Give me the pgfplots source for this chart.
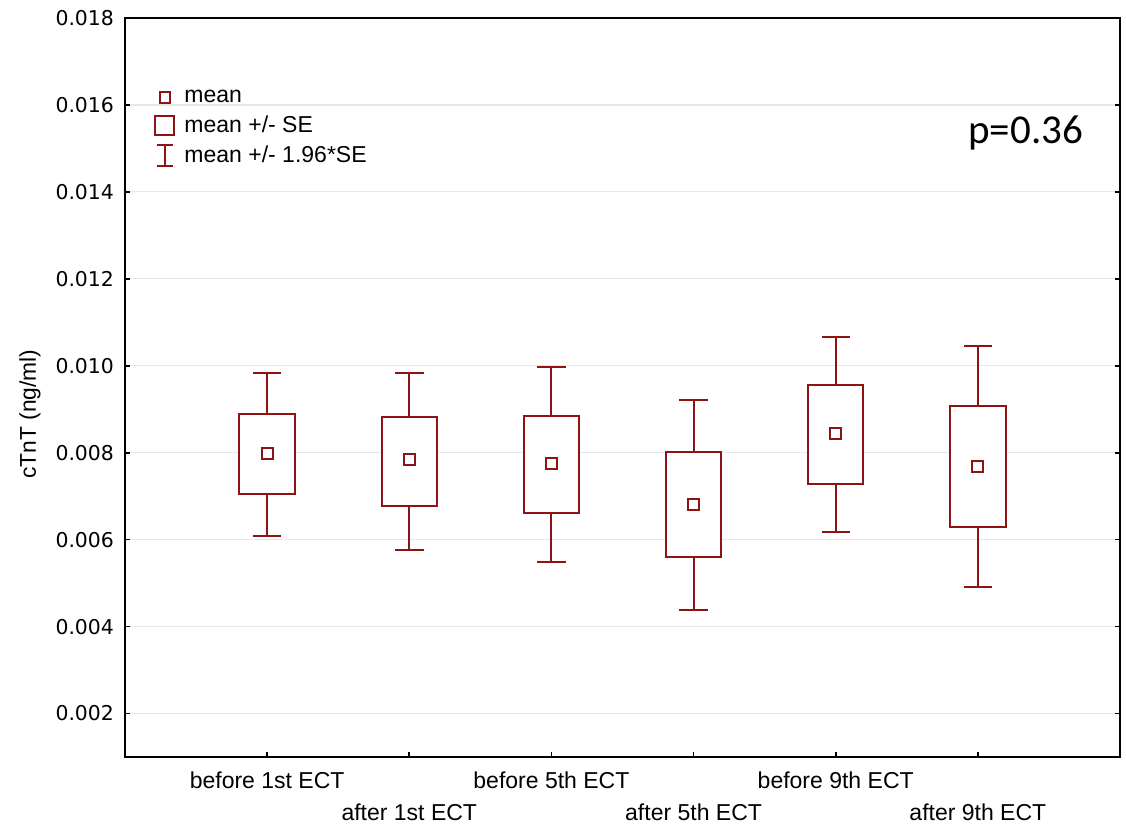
\documentclass[border=0pt]{standalone}
\usepackage{fontspec}
\setmainfont{Liberation Sans}
\newfontfamily\tickfont{DejaVu Sans}
\newfontfamily\pfont{Carlito}
\usepackage{pgfplots}
\pgfplotsset{compat=1.18}
\usepgfplotslibrary{statistics}
\definecolor{boxred}{RGB}{140,20,20}
\definecolor{gridgray}{RGB}{232,232,232}

\begin{document}
\begin{tikzpicture}
\begin{axis}[
    name=ax,
    scale only axis,
    width=497.5pt, height=369.5pt,
    xmin=0, xmax=7,
    ymin=0.001, ymax=0.018,
    axis line style={black, line width=1pt},
    tick style={black, line width=0.8pt},
    tick align=inside,
    major tick length=2.5pt,
    xtick pos=lower, ytick pos=both,
    xtick={1,3,5},
    xticklabels={before 1st ECT, before 5th ECT, before 9th ECT},
    extra x ticks={2,4,6},
    extra x tick labels={after 1st ECT, after 5th ECT, after 9th ECT},
    extra x tick style={xticklabel style={yshift=-16pt}},
    xticklabel style={font=\fontsize{11.5}{13.8}\selectfont, yshift=-4pt},
    ytick={0.002,0.004,...,0.0181},
    scaled y ticks=false,
    yticklabel style={font=\tickfont\fontsize{10.2}{12}\selectfont, xshift=-2pt,
        /pgf/number format/.cd, fixed, fixed zerofill, precision=3, assume math mode=true},
    ymajorgrids,
    major grid style={gridgray, line width=0.6pt},
    ylabel={cTnT (ng/ml)},
    every axis y label/.style={at={(axis description cs:-0.0955,0.464)}, rotate=90, anchor=center,
        font=\fontsize{11.4}{14}\selectfont},
    boxplot/draw direction=y,
    boxplot/box extend=0.39,
    boxplot/whisker extend=0.2,
    boxplot/draw/median/.code={},
    legend style={draw=none, fill=none, at={(rel axis cs:0.025,0.914)}, anchor=north west,
        font=\fontsize{11.5}{13.8}\selectfont, row sep=1.2pt, inner sep=2pt,
        nodes={inner xsep=4.5pt}},
    legend cell align=left,
]
% boxes: mean +/- SE, whiskers: mean +/- 1.96*SE
\addplot[forget plot, boxred, line width=1pt, fill=white, boxplot prepared={draw position=1,
    lower whisker=0.00608, lower quartile=0.00704, median=0.00799, upper quartile=0.00889, upper whisker=0.00984}]
    coordinates {};
\addplot[forget plot, boxred, line width=1pt, fill=white, boxplot prepared={draw position=2,
    lower whisker=0.00576, lower quartile=0.00678, median=0.00784, upper quartile=0.00882, upper whisker=0.00984}]
    coordinates {};
\addplot[forget plot, boxred, line width=1pt, fill=white, boxplot prepared={draw position=3,
    lower whisker=0.00549, lower quartile=0.00662, median=0.00775, upper quartile=0.00885, upper whisker=0.00997}]
    coordinates {};
\addplot[forget plot, boxred, line width=1pt, fill=white, boxplot prepared={draw position=4,
    lower whisker=0.00439, lower quartile=0.00560, median=0.00681, upper quartile=0.00802, upper whisker=0.00922}]
    coordinates {};
\addplot[forget plot, boxred, line width=1pt, fill=white, boxplot prepared={draw position=5,
    lower whisker=0.00617, lower quartile=0.00729, median=0.00844, upper quartile=0.00955, upper whisker=0.01067}]
    coordinates {};
\addplot[forget plot, boxred, line width=1pt, fill=white, boxplot prepared={draw position=6,
    lower whisker=0.00491, lower quartile=0.00629, median=0.00769, upper quartile=0.00907, upper whisker=0.01046}]
    coordinates {};
% means
\addplot[forget plot, only marks, mark=square*, mark size=2.7pt,
    mark options={fill=white, draw=boxred, line width=1pt}]
    coordinates {(1,0.00799) (2,0.00784) (3,0.00775) (4,0.00681) (5,0.00844) (6,0.00769)};

\addlegendimage{legend image code/.code={
    \draw[boxred, line width=1pt, fill=white] (2.2pt,-2.6pt) rectangle (7.4pt,2.6pt);}}
\addlegendimage{legend image code/.code={
    \draw[boxred, line width=1pt] (0pt,-4.8pt) rectangle (9.6pt,4.8pt);}}
\addlegendimage{legend image code/.code={
    \draw[boxred, line width=1pt] (0.8pt,-5.2pt) -- (8.8pt,-5.2pt) (4.8pt,-5.2pt) -- (4.8pt,5.2pt) (0.8pt,5.2pt) -- (8.8pt,5.2pt);}}
\legend{mean, mean +/- SE, mean +/- 1.96*SE}

\node[anchor=east, font=\pfont\fontsize{20.5}{24}\selectfont] at (rel axis cs:0.97,0.844) {p=0.36};
\end{axis}
\pgfresetboundingbox
\path[use as bounding box] ([shift={(-62.5pt,-33.5pt)}]ax.south west) rectangle ([shift={(3pt,9pt)}]ax.north east);
\end{tikzpicture}
\end{document}
